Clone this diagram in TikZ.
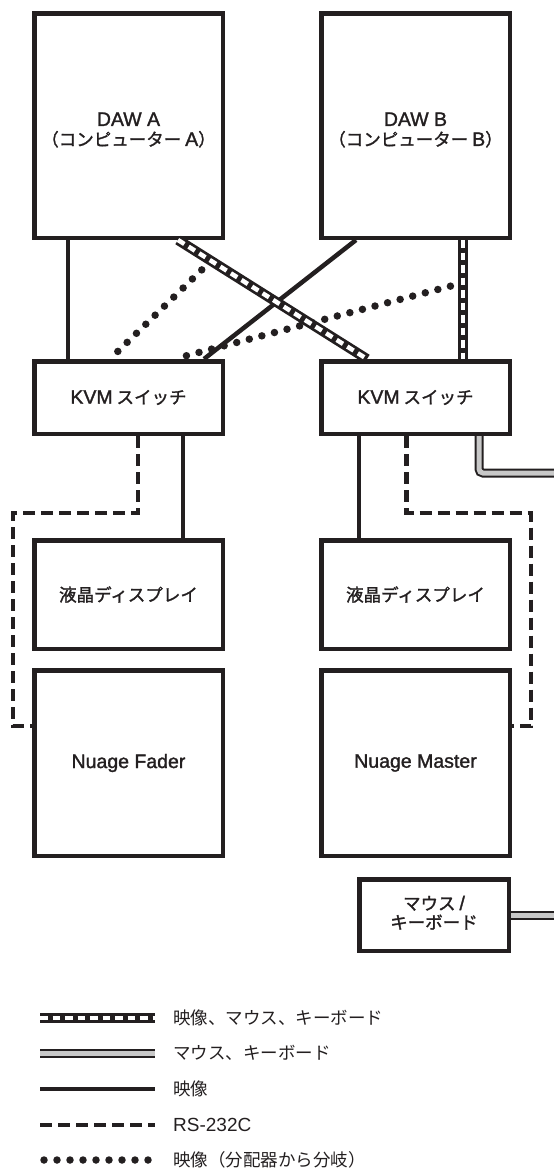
\documentclass[tikz,border=0pt]{standalone}
\usepackage{fontspec}
\setmainfont{Noto Sans CJK JP}
\newfontfamily\boxfont{Noto Sans CJK JP}[FakeBold=1.5]
\newfontfamily\latbox{Liberation Sans}[FakeBold=1.5]
\newfontfamily\latleg{Liberation Sans}
\newcommand\LB[1]{{\latbox\fontsize{19.5}{22}\selectfont #1}}
\newcommand\LL[1]{{\latleg\fontsize{19}{22}\selectfont #1}}
\usetikzlibrary{calc}
\definecolor{ink}{HTML}{231F20}
\definecolor{cablegray}{HTML}{C8C8C8}
\begin{document}
\begin{tikzpicture}[x=1pt,y=-1pt,
  box/.style={draw=ink, line width=4.5pt, inner sep=0pt, minimum width=188.5pt, align=center, font=\boxfont\fontsize{17.5}{22}\selectfont, text=ink},
  video/.style={draw=ink, line width=4.5pt},
  serial/.style={draw=ink, line width=4.5pt, dash pattern=on 12pt off 6pt},
  branch/.style={draw=ink, line width=7.5pt, line cap=round, dash pattern=on 0pt off 13pt},
  hatch/.style={preaction={draw=ink, line width=10pt}, draw=white, line width=4.5pt, dash pattern=on 7.5pt off 5pt},
  graycable/.style={preaction={draw=ink, line width=9pt}, draw=cablegray, line width=5pt, rounded corners=4pt},
  legtext/.style={anchor=west, font=\fontsize{17.5}{20}\selectfont, text=ink, inner sep=0pt}
]
\useasboundingbox (0,0) rectangle (554,1171);

% boxes
\node[box, minimum height=224.5pt] (dawA) at (128.5,125.5) {\raisebox{-6pt}[\height][\depth]{\begin{tabular}{@{}c@{}}\LB{DAW A}\\[-2pt]（コンピューター \LB{A}）\end{tabular}}};
\node[box, minimum height=224.5pt] (dawB) at (415.5,125.5) {\raisebox{-6pt}[\height][\depth]{\begin{tabular}{@{}c@{}}\LB{DAW B}\\[-2pt]（コンピューター \LB{B}）\end{tabular}}};
\node[box, minimum height=72.5pt] (kvmA) at (128.5,397.5) {\LB{KVM} スイッチ};
\node[box, minimum height=72.5pt] (kvmB) at (415.5,397.5) {\LB{KVM} スイッチ};
\node[box, minimum height=108.5pt] (dispA) at (128.5,594.5) {液晶ディスプレイ};
\node[box, minimum height=108.5pt] (dispB) at (415.5,594.5) {液晶ディスプレイ};
\node[box, minimum height=185.5pt] (nuA) at (128.5,763) {\LB{Nuage Fader}};
\node[box, minimum height=185.5pt] (nuB) at (415.5,763) {\LB{Nuage Master}};
\node[box, minimum width=149.5pt, minimum height=71.5pt] (mouse) at (434,915) {\begin{tabular}{@{}c@{}}マウス \LB{/}\\[-3pt]キーボード\end{tabular}};

% x positions of connectors
\coordinate (xa) at (68,0);
\coordinate (xh1) at (178,0);
\coordinate (xh2) at (367,0);
\coordinate (xs1) at (356,0);
\coordinate (xs2) at (204,0);
\coordinate (xhv) at (463,0);
\coordinate (xd1) at (110,0);
\coordinate (xd2) at (174,0);
\coordinate (xaS) at (138,0);
\coordinate (xaV) at (183,0);
\coordinate (xbV) at (359,0);
\coordinate (xbS) at (406.5,0);
\coordinate (xbG) at (479,0);
\coordinate (yS) at (0,513);
\coordinate (yN) at (0,726);
\coordinate (xL) at (13,0);
\coordinate (xR) at (531,0);
\coordinate (edge1) at (556,473);
\coordinate (edge2) at (556,915);

% named end points
\coordinate (h1) at (dawA.south -| xh1);
\coordinate (h2) at (kvmB.north -| xh2);
\coordinate (hv1) at (dawB.south -| xhv);
\coordinate (hv2) at (kvmB.north -| xhv);
\coordinate (br1) at ($(h1)!0.175!(h2)$);
\coordinate (br2) at ($(hv1)!0.36!(hv2)$);

% dotted branches (drawn first)
\draw[branch] (br1) -- (kvmA.north -| xd1);
\draw[branch] (br2) -- (kvmA.north -| xd2);

% solid video
\draw[video] (dawA.south -| xa) -- (kvmA.north -| xa);
\draw[video] (dawB.south -| xs1) -- (kvmA.north -| xs2);
\draw[video] (kvmA.south -| xaV) -- (dispA.north -| xaV);
\draw[video] (kvmB.south -| xbV) -- (dispB.north -| xbV);

% hatched video/mouse/keyboard
\draw[hatch] (h1) -- (h2);
\draw[hatch] (hv1) -- (hv2);

% RS-232C
\draw[serial] (kvmA.south -| xaS) -- (xaS |- yS) -- (xL |- yS) -- (xL |- yN) -- (nuA.west |- yN);
\draw[serial] (kvmB.south -| xbS) -- (xbS |- yS) -- (xR |- yS) -- (xR |- yN) -- (nuB.east |- yN);

% mouse / keyboard gray cables
\draw[graycable] (kvmB.south -| xbG) -- (xbG |- edge1) -- (edge1);
\draw[graycable] (mouse.east |- edge2) -- (edge2);

% legend
\coordinate (l1a) at (40,1018); \coordinate (l1b) at (155,1018);
\coordinate (l2a) at (40,1053); \coordinate (l2b) at (155,1053);
\coordinate (l3a) at (40,1089); \coordinate (l3b) at (155,1089);
\coordinate (l4a) at (40,1125); \coordinate (l4b) at (155,1125);
\coordinate (l5a) at (44,1160); \coordinate (l5b) at (156,1160);
\draw[hatch] (l1a) -- (l1b);
\draw[graycable] (l2a) -- (l2b);
\draw[video] (l3a) -- (l3b);
\draw[serial] (l4a) -- (l4b);
\draw[branch] (l5a) -- (l5b);
\node[legtext] (t1) at (173,1018) {映像、マウス、キーボード};
\node[legtext] (t2) at (173,1053) {マウス、キーボード};
\node[legtext] (t3) at (173,1089) {映像};
\node[legtext] (t4) at (173,1125) {\LL{RS-232C}};
\node[legtext] (t5) at (173,1160) {映像（分配器から分岐）};
\end{tikzpicture}
\end{document}
